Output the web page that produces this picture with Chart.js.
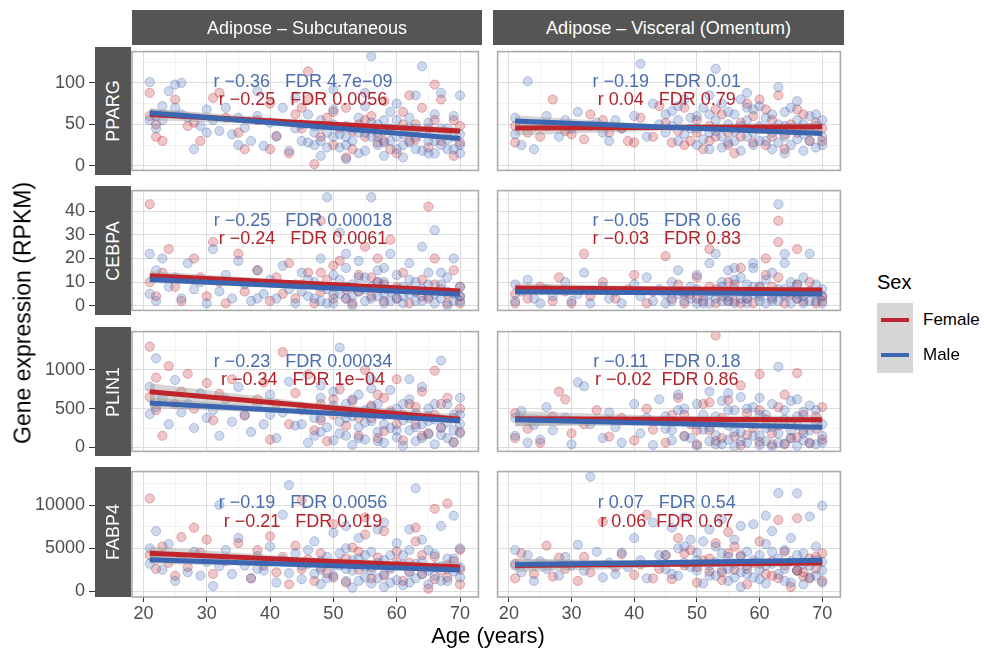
<!DOCTYPE html>
<html>
<head>
<meta charset="UTF-8" />
<title>Adipogenic gene expression by age</title>
<script src="https://cdn.jsdelivr.net/npm/chart.js@4"></script>
<style>
  body { margin: 0; background: #fff; font-family: "Liberation Sans", Arial, Helvetica, sans-serif; }
  #fig { position: relative; width: 984px; height: 651px; overflow: hidden; }
  canvas { position: absolute; }
  .strip { position: absolute; background: #555; color: #fff; font-size: 18px; }
  .strip span { position: absolute; left: 50%; top: 50%; transform: translate(-50%, -50%); white-space: nowrap; }
  .strip.row span { transform: translate(-50%, -50%) rotate(-90deg); }
  .note { position: absolute; font-size: 18px; white-space: pre; transform: translate(-50%, -50%); }
  .abs { position: absolute; white-space: nowrap; }
</style>
</head>
<body>
<div id="fig"></div>
<script>
// ---- data ----
const tissues = ['Adipose \u2013 Subcutaneous', 'Adipose \u2013 Visceral (Omentum)'];
const genes = ['PPARG', 'CEBPA', 'PLIN1', 'FABP4'];
const sexes = ['Female', 'Male'];

const ageTicks = [20, 30, 40, 50, 60, 70];
const ageMinor = [25, 35, 45, 55, 65];
const ageRange = [18.2, 72.9];
const fitAges = [21, 45.5, 70];

const ppargTicks = [0, 50, 100];
const ppargMinor = [25, 75, 125];
const ppargRange = [-5.6, 137.8];
const cebpaTicks = [0, 10, 20, 30, 40];
const cebpaMinor = [5, 15, 25, 35, 45];
const cebpaRange = [-2, 48.8];
const plin1Ticks = [0, 500, 1000];
const plin1Minor = [250, 750, 1250];
const plin1Range = [-52, 1495];
const fabp4Ticks = [0, 5000, 10000];
const fabp4Minor = [2500, 7500, 12500];
const fabp4Range = [-674, 13930];

// PPARG
const ppargSubMale = [[21,101],[21,55],[22,60],[22,45],[23,72],[24,90],[25,98],[26,100],[26,62],[27,58],[28,20],[29,48],[30,68],[31,55],[32,42],[33,70],[34,38],[35,58],[36,46],[37,30],[38,60],[39,24],[40,52],[41,35],[42,70],[43,18],[44,45],[45,30],[46,62],[47,25],[48,55],[48,12],[49,40],[50,35],[50,68],[51,22],[52,48],[52,8],[53,30],[54,58],[54,40],[55,18],[55,72],[56,132],[56,35],[57,50],[57,25],[58,12],[58,42],[59,65],[59,30],[60,20],[60,55],[61,38],[61,10],[62,46],[62,28],[63,85],[63,35],[64,120],[64,18],[65,52],[65,30],[66,40],[66,15],[67,88],[67,25],[68,45],[68,32],[69,20],[69,60],[70,38],[70,85],[70,25],
  [45,50],[46,28],[47,40],[48,30],[49,22],[50,50],[51,38],[52,25],[53,45],[54,15],[55,40],[56,52],[57,35],[58,28],[59,45],[60,35],[61,25],[62,58],[63,20],[64,40],[65,15],[66,30],[67,45],[68,20],[69,35],[70,15],[63,45],[58,55],[52,35],[47,48],[66,62],[60,75],[55,88],[50,92],[44,82],[38,90],[35,25],[30,40],[25,70],[23,55]];
const ppargSubFemale = [[21,88],[21,60],[22,50],[22,35],[23,30],[25,80],[27,48],[28,52],[29,30],[31,82],[32,88],[33,58],[35,40],[36,20],[38,55],[40,75],[41,36],[43,15],[44,62],[45,45],[46,80],[46,114],[47,2],[48,35],[49,58],[50,25],[51,45],[52,70],[53,20],[54,50],[55,35],[56,60],[57,28],[58,78],[59,42],[60,15],[61,65],[62,30],[63,50],[64,70],[65,22],[66,55],[66,98],[67,80],[68,40],[69,12],[70,48],[70,28],
  [48,48],[50,65],[53,42],[55,55],[57,40],[59,20],[61,50],[63,32],[65,45],[67,30],[69,55],[62,85],[58,30],[52,10],[45,70],[40,20]];
const ppargVisMale = [[21,58],[21,38],[22,25],[23,102],[24,20],[25,50],[26,60],[28,35],[29,55],[30,45],[31,65],[33,48],[34,52],[35,40],[37,55],[38,45],[40,60],[41,123],[42,35],[43,75],[44,50],[45,40],[46,66],[47,30],[47,55],[48,80],[49,45],[50,25],[50,60],[51,70],[52,40],[52,20],[53,117],[53,55],[54,35],[54,75],[55,50],[55,28],[56,62],[56,42],[57,18],[57,80],[58,55],[58,35],[59,68],[59,25],[60,48],[60,72],[61,30],[61,58],[62,40],[62,20],[63,95],[63,50],[64,35],[64,65],[65,45],[65,25],[66,78],[66,55],[67,38],[67,18],[68,60],[68,30],[69,48],[69,22],[70,55],[70,35],
  [45,62],[46,48],[48,38],[49,58],[50,45],[51,32],[52,62],[53,42],[54,22],[55,65],[56,30],[57,48],[58,70],[59,40],[60,30],[61,45],[62,62],[63,28],[64,48],[65,70],[66,32],[67,50],[68,42],[69,62],[70,25],[64,15],[58,88],[52,85],[47,72],[36,30]];
const ppargVisFemale = [[21,48],[21,28],[23,40],[25,35],[26,48],[27,80],[29,42],[30,38],[32,32],[33,62],[35,55],[36,40],[38,45],[39,30],[40,28],[41,58],[43,35],[44,72],[45,52],[46,28],[47,42],[48,70],[49,30],[50,55],[51,20],[52,48],[53,35],[54,62],[55,40],[56,15],[57,52],[58,75],[59,28],[60,45],[61,68],[62,35],[63,85],[64,20],[65,50],[66,40],[67,62],[68,30],[69,52],[70,45],
  [48,25],[50,40],[53,68],[55,25],[57,35],[59,60],[61,25],[62,55],[64,38],[66,68],[68,45],[70,30],[60,80],[52,30]];
const ppargSubMaleFit = [64, 48.5, 33];
const ppargSubFemaleFit = [62, 52, 42];
const ppargVisMaleFit = [54, 46.5, 39];
const ppargVisFemaleFit = [45.6, 46.3, 47];
const ppargSubMaleCI = [5, 1.8, 2.5];
const ppargSubFemaleCI = [7, 3, 4];
const ppargVisMaleCI = [7, 2.5, 3.5];
const ppargVisFemaleCI = [9, 3.5, 5];
const ppargSubStats = ['r \u22120.36   FDR 4.7e\u221209', 'r \u22120.25   FDR 0.0056'];
const ppargVisStats = ['r \u22120.19   FDR 0.01', 'r 0.04   FDR 0.79'];

// CEBPA
const cebpaSubMale = [[21,22],[21,5],[22,15],[22,2],[23,20],[24,8],[25,12],[26,3],[27,18],[28,7],[29,10],[30,1],[31,24],[32,6],[33,13],[34,3],[35,19],[36,9],[37,2],[38,15],[39,5],[40,11],[41,3],[42,17],[43,7],[44,1],[45,14],[46,4],[47,10],[48,2],[48,20],[49,46],[49,7],[50,13],[50,1],[51,31],[51,5],[52,16],[52,3],[53,9],[53,0],[54,19],[54,6],[55,12],[55,2],[56,46],[56,8],[57,4],[57,15],[58,1],[58,10],[59,22],[59,6],[60,3],[60,13],[61,8],[61,1],[62,18],[62,5],[63,10],[63,2],[64,25],[64,7],[65,4],[65,14],[66,32],[66,1],[67,9],[67,3],[68,12],[68,0],[69,20],[69,5],[70,8],[70,2],
  [45,6],[46,11],[47,3],[48,8],[49,1],[50,5],[51,11],[52,8],[53,4],[54,12],[55,7],[56,3],[57,10],[58,5],[59,2],[60,7],[61,4],[62,11],[63,6],[64,2],[65,9],[66,5],[67,14],[68,6],[69,2],[70,4],[58,16],[52,22],[44,9],[38,3]];
const cebpaSubFemale = [[21,43],[21,10],[22,4],[23,14],[24,24],[25,8],[26,2],[28,20],[29,12],[30,4],[31,27],[32,10],[33,1],[35,22],[36,6],[38,15],[40,2],[41,12],[42,5],[43,18],[44,3],[45,9],[46,14],[47,1],[48,36],[48,6],[49,11],[50,3],[51,19],[52,7],[53,1],[54,13],[55,25],[56,4],[57,10],[58,2],[59,28],[60,8],[61,14],[62,1],[63,6],[64,11],[65,42],[65,3],[66,20],[67,7],[68,1],[69,15],[70,4],[70,1],
  [48,14],[50,8],[52,3],[54,6],[56,12],[58,9],[60,3],[62,7],[64,4],[66,9],[68,5],[70,8],[57,20],[50,17]];
const cebpaVisMale = [[21,9],[21,2],[22,6],[23,11],[24,3],[25,1],[26,7],[27,4],[29,10],[30,2],[31,5],[32,14],[33,1],[35,8],[36,3],[37,6],[38,1],[40,9],[41,4],[42,12],[43,2],[44,7],[45,1],[46,10],[47,5],[47,15],[48,2],[49,8],[50,1],[50,13],[51,4],[52,18],[52,1],[53,22],[53,6],[54,2],[54,10],[55,4],[55,15],[56,1],[56,7],[57,12],[57,3],[58,1],[58,9],[59,5],[59,16],[60,2],[60,8],[61,11],[61,1],[62,4],[62,14],[63,43],[63,2],[64,7],[64,18],[65,1],[65,10],[66,5],[66,3],[67,12],[67,1],[68,22],[68,6],[69,2],[69,9],[70,4],[70,1],
  [45,5],[46,2],[48,6],[49,3],[50,7],[51,1],[52,5],[53,3],[54,8],[55,2],[56,11],[57,6],[58,3],[59,8],[60,4],[61,6],[62,2],[63,7],[64,4],[65,6],[66,9],[67,4],[68,2],[69,5],[70,7],[59,18],[64,22],[56,16]];
const cebpaVisFemale = [[21,5],[21,1],[23,3],[25,8],[27,2],[28,12],[29,6],[30,1],[32,22],[33,4],[35,10],[37,3],[39,7],[40,13],[42,1],[43,6],[45,21],[46,3],[47,9],[48,1],[49,5],[50,12],[51,2],[52,24],[52,8],[53,1],[54,4],[55,10],[56,2],[57,16],[58,6],[59,1],[60,8],[61,13],[62,3],[63,36],[63,27],[63,12],[64,1],[65,5],[66,24],[66,9],[67,2],[68,6],[69,1],[70,4],
  [48,5],[50,3],[53,7],[55,2],[56,9],[58,3],[60,5],[62,8],[64,5],[66,3],[68,10],[70,2],[61,20],[57,1]];
const cebpaSubMaleFit = [11.1, 8, 4.8];
const cebpaSubFemaleFit = [12.7, 9.5, 6.2];
const cebpaVisMaleFit = [5.9, 5.5, 5.0];
const cebpaVisFemaleFit = [7.5, 7.1, 6.6];
const cebpaSubMaleCI = [1.5, 0.6, 0.8];
const cebpaSubFemaleCI = [2, 0.9, 1.2];
const cebpaVisMaleCI = [1.5, 0.6, 0.8];
const cebpaVisFemaleCI = [2, 0.9, 1.2];
const cebpaSubStats = ['r \u22120.25   FDR 0.00018', 'r \u22120.24   FDR 0.0061'];
const cebpaVisStats = ['r \u22120.05   FDR 0.66', 'r \u22120.03   FDR 0.83'];

// PLIN1
const plin1SubMale = [[21,780],[21,430],[22,1150],[22,520],[23,640],[24,300],[25,870],[26,450],[27,560],[28,250],[29,700],[30,380],[31,480],[32,150],[33,620],[34,330],[35,780],[36,420],[37,200],[38,560],[39,300],[40,680],[41,120],[42,450],[43,850],[44,280],[45,520],[46,60],[47,380],[48,640],[48,200],[49,470],[50,90],[50,720],[51,1290],[51,330],[52,560],[52,150],[53,400],[53,30],[54,260],[54,680],[55,480],[55,100],[56,880],[56,340],[57,200],[57,560],[58,60],[58,420],[59,740],[59,250],[60,130],[60,500],[61,350],[61,20],[62,620],[62,220],[63,440],[63,80],[64,300],[64,780],[65,170],[65,500],[66,360],[66,40],[67,1120],[67,260],[68,560],[68,120],[69,420],[69,60],[70,640],[70,300],[70,180],
  [45,300],[46,480],[47,150],[48,380],[49,260],[50,540],[51,180],[52,380],[53,620],[54,120],[55,320],[56,520],[57,80],[58,300],[59,440],[60,220],[61,560],[62,380],[63,260],[64,120],[65,340],[66,560],[67,160],[68,320],[69,220],[70,420],[62,880],[56,760],[48,800],[40,420]];
const plin1SubFemale = [[21,1300],[21,650],[22,480],[22,900],[23,150],[24,1050],[25,560],[26,720],[27,950],[28,500],[30,830],[31,350],[32,690],[34,880],[36,410],[38,620],[39,840],[40,100],[41,560],[42,1230],[43,300],[44,700],[45,480],[46,940],[47,220],[48,560],[49,80],[50,420],[51,750],[52,280],[53,600],[54,150],[55,1000],[56,380],[57,680],[58,210],[59,470],[60,880],[61,90],[62,560],[63,300],[64,720],[65,180],[66,990],[66,420],[67,250],[68,640],[69,70],[70,500],[70,200],
  [48,350],[50,620],[52,450],[54,380],[56,540],[58,640],[60,300],[61,420],[63,520],[65,400],[67,560],[69,380],[64,150],[57,120]];
const plin1VisMale = [[21,380],[21,150],[22,470],[23,60],[24,290],[25,100],[26,520],[27,220],[29,380],[30,40],[31,840],[32,790],[33,300],[35,120],[36,450],[37,260],[38,60],[40,560],[41,180],[42,380],[43,30],[44,620],[45,240],[46,90],[47,480],[47,680],[48,140],[49,320],[50,20],[50,560],[51,230],[52,80],[52,720],[53,400],[53,160],[54,40],[54,600],[55,280],[55,100],[56,480],[56,10],[57,200],[57,650],[58,340],[58,60],[59,520],[59,150],[60,30],[60,420],[61,250],[61,80],[62,560],[62,10],[63,1040],[63,180],[64,360],[64,50],[65,600],[65,120],[66,280],[66,20],[67,460],[67,90],[68,220],[68,540],[69,40],[69,330],[70,150],[70,60],
  [45,400],[46,220],[48,500],[49,120],[50,300],[51,420],[52,260],[53,40],[54,330],[55,480],[56,200],[57,80],[58,500],[59,300],[60,150],[61,420],[62,260],[63,60],[64,480],[65,220],[66,400],[67,180],[68,50],[69,480],[70,300],[55,700],[60,640],[66,620]];
const plin1VisFemale = [[21,440],[21,120],[23,240],[25,60],[27,400],[28,720],[29,620],[30,180],[32,300],[34,480],[36,140],[38,380],[40,90],[42,500],[43,230],[45,60],[46,420],[47,640],[48,150],[49,300],[50,40],[51,560],[52,220],[53,1445],[53,80],[54,380],[55,610],[56,140],[57,30],[58,440],[59,250],[60,945],[60,70],[61,360],[62,180],[63,520],[64,40],[65,300],[66,960],[66,130],[67,420],[68,60],[69,240],[70,520],[70,100],
  [48,420],[50,220],[52,580],[54,120],[56,320],[58,160],[60,480],[62,40],[63,280],[65,120],[67,220],[69,400],[57,800],[64,680]];
const plin1SubMaleFit = [574, 459, 344];
const plin1SubFemaleFit = [719, 541, 363];
const plin1VisMaleFit = [356, 308, 259];
const plin1VisFemaleFit = [371, 364, 356];
const plin1SubMaleCI = [70, 25, 35];
const plin1SubFemaleCI = [110, 45, 60];
const plin1VisMaleCI = [80, 30, 40];
const plin1VisFemaleCI = [100, 40, 55];
const plin1SubStats = ['r \u22120.23   FDR 0.00034', 'r \u22120.34   FDR 1e\u221204'];
const plin1VisStats = ['r \u22120.11   FDR 0.18', 'r \u22120.02  FDR 0.86'];

// FABP4
const fabp4SubMale = [[21,5000],[21,3200],[22,7000],[22,4200],[23,2500],[24,5500],[25,1200],[26,3800],[27,2200],[28,4600],[29,1800],[30,3400],[31,600],[32,10040],[32,2900],[33,4800],[34,2000],[35,6200],[36,3000],[37,1500],[38,4100],[39,2400],[40,5200],[41,1000],[42,8900],[42,3600],[43,12360],[43,2100],[44,4400],[45,1400],[46,3200],[47,5800],[48,2500],[48,800],[49,4000],[50,1800],[50,6800],[51,3000],[52,1200],[52,5000],[53,2400],[53,400],[54,3800],[54,6200],[55,1600],[55,2800],[56,4600],[56,900],[57,3300],[57,7200],[58,2000],[58,500],[59,4200],[59,2600],[60,1300],[60,5600],[61,3100],[61,700],[62,2200],[62,4800],[63,11990],[63,1500],[64,3500],[64,6000],[65,2400],[65,800],[66,4300],[66,1800],[67,2900],[67,7600],[68,1200],[68,3800],[69,8800],[69,2300],[70,5000],[70,1600],
  [45,3000],[46,4800],[47,2000],[48,3500],[49,1500],[50,3000],[51,4400],[52,2600],[53,3600],[54,1200],[55,4200],[56,2400],[57,1500],[58,3600],[59,1000],[60,3000],[61,4200],[62,1000],[63,3200],[64,2000],[65,4800],[66,2800],[67,1200],[68,2600],[69,3800],[70,2800],[58,8000],[62,7200],[52,7600],[38,2600]];
const fabp4SubFemale = [[21,10790],[21,4200],[22,2600],[23,5200],[24,3300],[25,1800],[26,6300],[27,2800],[28,7400],[29,4500],[30,6000],[31,2000],[33,3500],[35,5600],[37,1500],[38,4800],[39,3000],[40,6400],[41,2200],[42,4000],[43,800],[44,5300],[45,10600],[45,2600],[46,3700],[47,1200],[48,4400],[49,2100],[50,7800],[51,3300],[52,1000],[53,5100],[54,2500],[55,6600],[56,1500],[57,3900],[58,7000],[59,2800],[60,4600],[61,1200],[62,3300],[63,5800],[64,2000],[65,300],[66,9600],[66,4000],[67,2400],[68,10220],[68,1600],[69,3500],[70,2500],[70,800],
  [48,2800],[50,1600],[52,3800],[54,4600],[56,2800],[58,1800],[60,3400],[62,2300],[64,4200],[66,1400],[68,3000],[70,4800],[55,8600],[63,7400]];
const fabp4VisMale = [[21,4800],[21,3000],[22,2200],[23,4200],[24,1200],[25,3500],[26,2600],[28,1800],[29,4000],[30,3000],[31,5400],[32,2400],[33,13340],[34,4600],[35,1600],[36,3300],[37,2000],[38,4500],[39,2800],[40,6200],[41,3600],[42,1500],[43,8000],[44,4200],[45,2600],[46,7400],[47,5000],[47,1800],[48,3300],[49,6000],[50,2400],[50,4500],[51,900],[52,7200],[52,3000],[53,1800],[53,5200],[54,2500],[54,8400],[55,4000],[55,1200],[56,3200],[56,6000],[57,2200],[57,500],[58,4600],[58,3000],[59,7800],[59,1600],[60,4200],[60,2500],[61,5500],[61,900],[62,3200],[62,7000],[63,11430],[63,2000],[64,4800],[64,1200],[65,3500],[65,6200],[66,11400],[66,2400],[67,4400],[67,800],[68,8700],[68,3000],[69,5200],[69,1800],[70,9960],[70,3400],[70,1000],
  [45,4200],[46,2000],[48,5200],[49,2800],[50,3600],[51,5800],[52,1800],[53,3400],[54,4400],[55,2600],[56,1600],[57,4000],[58,2000],[59,3600],[60,1400],[61,3000],[62,4600],[63,3800],[64,2600],[65,1000],[66,4200],[67,3200],[68,1600],[69,3600],[70,2400],[57,7600],[61,8800],[48,8600]];
const fabp4VisFemale = [[21,3200],[21,1500],[22,4400],[24,2000],[26,5300],[27,1700],[28,3900],[29,2600],[31,1200],[32,4000],[33,2200],[35,8090],[37,2800],[38,4300],[40,1900],[41,3100],[42,8910],[43,1500],[44,2600],[45,4200],[46,1400],[47,6200],[48,3000],[49,4800],[50,1000],[51,3600],[52,2300],[53,5600],[54,1300],[55,6900],[56,2500],[57,4200],[58,800],[59,3300],[60,5800],[61,2000],[62,3500],[63,8300],[63,1500],[64,4600],[65,500],[66,8500],[66,2400],[67,1700],[68,3800],[69,2600],[70,4400],[70,1200],
  [48,4400],[50,2800],[52,3800],[54,2200],[56,5200],[58,2600],[60,3200],[62,1800],[64,3000],[66,2400],[67,2200],[68,1500],[69,4000],[55,4400]];
const fabp4SubMaleFit = [3670, 3070, 2470];
const fabp4SubFemaleFit = [4420, 3615, 2810];
const fabp4VisMaleFit = [3110, 3355, 3600];
const fabp4VisFemaleFit = [3000, 3145, 3290];
const fabp4SubMaleCI = [500, 180, 250];
const fabp4SubFemaleCI = [800, 320, 420];
const fabp4VisMaleCI = [600, 220, 300];
const fabp4VisFemaleCI = [800, 320, 420];
const fabp4SubStats = ['r \u22120.19   FDR 0.0056', 'r \u22120.21   FDR 0.019'];
const fabp4VisStats = ['r 0.07   FDR 0.54', 'r 0.06  FDR 0.67'];

// ---- styling ----
const maleCol = '#3d66b0', femaleCol = '#c0252c';
const maleNote = '#4a6dae', femaleNote = '#b3222a';
const malePt = 'rgba(70,110,185,0.26)', malePtEdge = 'rgba(60,95,170,0.32)';
const femalePt = 'rgba(195,40,45,0.26)', femalePtEdge = 'rgba(180,35,40,0.32)';
const bandCol = 'rgba(153,153,153,0.4)';
const FONT = '"Liberation Sans", Arial, Helvetica, sans-serif';
Chart.defaults.font.family = FONT;

const colLeft = [132, 493], colRight = [482, 844];
const rowTop = [47, 186, 327, 467], rowBottom = [175, 315, 456, 597];

const rows = [
  { ticks: ppargTicks, minor: ppargMinor, range: ppargRange,
    sub: [ppargSubMale, ppargSubFemale, ppargSubMaleFit, ppargSubFemaleFit, ppargSubMaleCI, ppargSubFemaleCI, ppargSubStats],
    vis: [ppargVisMale, ppargVisFemale, ppargVisMaleFit, ppargVisFemaleFit, ppargVisMaleCI, ppargVisFemaleCI, ppargVisStats] },
  { ticks: cebpaTicks, minor: cebpaMinor, range: cebpaRange,
    sub: [cebpaSubMale, cebpaSubFemale, cebpaSubMaleFit, cebpaSubFemaleFit, cebpaSubMaleCI, cebpaSubFemaleCI, cebpaSubStats],
    vis: [cebpaVisMale, cebpaVisFemale, cebpaVisMaleFit, cebpaVisFemaleFit, cebpaVisMaleCI, cebpaVisFemaleCI, cebpaVisStats] },
  { ticks: plin1Ticks, minor: plin1Minor, range: plin1Range,
    sub: [plin1SubMale, plin1SubFemale, plin1SubMaleFit, plin1SubFemaleFit, plin1SubMaleCI, plin1SubFemaleCI, plin1SubStats],
    vis: [plin1VisMale, plin1VisFemale, plin1VisMaleFit, plin1VisFemaleFit, plin1VisMaleCI, plin1VisFemaleCI, plin1VisStats] },
  { ticks: fabp4Ticks, minor: fabp4Minor, range: fabp4Range,
    sub: [fabp4SubMale, fabp4SubFemale, fabp4SubMaleFit, fabp4SubFemaleFit, fabp4SubMaleCI, fabp4SubFemaleCI, fabp4SubStats],
    vis: [fabp4VisMale, fabp4VisFemale, fabp4VisMaleFit, fabp4VisFemaleFit, fabp4VisMaleCI, fabp4VisFemaleCI, fabp4VisStats] }
];

const fig = document.getElementById('fig');
function addDiv(cls, text, css) {
  const d = document.createElement('div');
  d.className = cls;
  if (text !== null) d.textContent = text;
  Object.assign(d.style, css);
  fig.appendChild(d);
  return d;
}

const frame = {
  id: 'frame',
  afterDraw(c) {
    const a = c.chartArea, g = c.ctx;
    g.save();
    g.strokeStyle = '#ababab';
    g.lineWidth = 1.6;
    g.strokeRect(a.left, a.top, a.right - a.left, a.bottom - a.top);
    g.restore();
  }
};

const pts = arr => arr.map(p => ({ x: p[0], y: p[1] }));
const curve = (vals, off) => fitAges.map((a, i) => ({ x: a, y: vals[i] + (off ? off[i] : 0) }));
const neg = arr => arr.map(v => -v);

function gridOpts(major, showTicks) {
  return {
    color: c => major.includes(c.tick.value) ? '#dcdcdc' : '#eeeeee',
    lineWidth: c => major.includes(c.tick.value) ? 1 : 0.7,
    drawTicks: showTicks,
    tickLength: 5,
    tickColor: c => major.includes(c.tick.value) ? '#333333' : 'rgba(0,0,0,0)'
  };
}

function makePanel(r, col) {
  const row = rows[r];
  const [male, female, mFit, fFit, mCI, fCI, stats] = col === 0 ? row.sub : row.vis;
  const L = colLeft[col], R = colRight[col], T = rowTop[r], B = rowBottom[r];
  const isLeft = col === 0, isBottom = r === 3;
  const cvLeft = isLeft ? 0 : L - 1;
  const yW = isLeft ? L : 0;
  const xH = isBottom ? 32 : 0;
  const cv = document.createElement('canvas');
  cv.width = R + 2 - cvLeft;
  cv.height = (B - T) + 2 + xH;
  cv.style.left = cvLeft + 'px';
  cv.style.top = (T - 1) + 'px';
  fig.appendChild(cv);

  const yGrid = gridOpts(row.ticks, isLeft);
  yGrid.tickLength = 43;
  const chart = new Chart(cv, {
    type: 'scatter',
    data: {
      datasets: [
        { type: 'line', data: curve(mFit), borderColor: maleCol, borderWidth: 5, pointRadius: 0, fill: false, order: 0 },
        { type: 'line', data: curve(fFit), borderColor: femaleCol, borderWidth: 5, pointRadius: 0, fill: false, order: 1 },
        { type: 'line', data: curve(mFit, mCI), borderWidth: 0, pointRadius: 0, fill: false, order: 2 },
        { type: 'line', data: curve(mFit, neg(mCI)), borderWidth: 0, pointRadius: 0, fill: '-1', backgroundColor: bandCol, order: 2 },
        { type: 'line', data: curve(fFit, fCI), borderWidth: 0, pointRadius: 0, fill: false, order: 3 },
        { type: 'line', data: curve(fFit, neg(fCI)), borderWidth: 0, pointRadius: 0, fill: '-1', backgroundColor: bandCol, order: 3 },
        { label: 'Male', data: pts(male), backgroundColor: malePt, borderColor: malePtEdge, borderWidth: 1, pointRadius: 4.6, order: 4 },
        { label: 'Female', data: pts(female), backgroundColor: femalePt, borderColor: femalePtEdge, borderWidth: 1, pointRadius: 4.6, order: 5 }
      ]
    },
    options: {
      responsive: false,
      animation: false,
      events: [],
      layout: { padding: { left: isLeft ? 0 : 1, right: 2, top: 1, bottom: 1 } },
      plugins: { legend: { display: false }, tooltip: { enabled: false } },
      scales: {
        x: {
          type: 'linear', min: ageRange[0], max: ageRange[1],
          afterBuildTicks: s => { s.ticks = ageTicks.concat(ageMinor).sort((a, b) => a - b).map(v => ({ value: v })); },
          ticks: { display: isBottom, autoSkip: false, maxRotation: 0, padding: 1, color: '#4d4d4d', font: { size: 18 },
                   callback: v => ageTicks.includes(v) ? String(v) : '' },
          grid: gridOpts(ageTicks, isBottom),
          border: { display: false },
          afterFit: s => { s.height = xH; s.paddingLeft = 0; s.paddingRight = 0; s.paddingTop = 0; s.paddingBottom = 0; }
        },
        y: {
          type: 'linear', min: row.range[0], max: row.range[1],
          afterBuildTicks: s => { s.ticks = row.ticks.concat(row.minor).sort((a, b) => a - b).map(v => ({ value: v })); },
          ticks: { display: isLeft, autoSkip: false, padding: 4, color: '#4d4d4d', font: { size: 18 },
                   callback: v => row.ticks.includes(v) ? String(v) : '' },
          grid: yGrid,
          border: { display: false },
          afterFit: s => { s.width = yW; s.paddingLeft = 0; s.paddingRight = 0; s.paddingTop = 0; s.paddingBottom = 0; }
        }
      }
    },
    plugins: [frame]
  });

  // r / FDR annotations
  const a = chart.chartArea;
  const cx = cvLeft + chart.scales.x.getPixelForValue(45.2);
  const h = a.bottom - a.top;
  addDiv('note', stats[0], { left: cx + 'px', top: (T - 1 + a.top + 0.245 * h) + 'px', color: maleNote });
  addDiv('note', stats[1], { left: cx + 'px', top: (T - 1 + a.top + 0.395 * h) + 'px', color: femaleNote });
}

for (let r = 0; r < 4; r++) for (let c = 0; c < 2; c++) makePanel(r, c);

// strips
tissues.forEach((t, c) => {
  const s = addDiv('strip', null, { left: colLeft[c] + 'px', top: '10px', width: (colRight[c] - colLeft[c]) + 'px', height: '35px' });
  const sp = document.createElement('span'); sp.textContent = t; s.appendChild(sp);
});
genes.forEach((g, r) => {
  const s = addDiv('strip row', null, { left: '95px', top: rowTop[r] + 'px', width: '36px', height: (rowBottom[r] - rowTop[r]) + 'px' });
  const sp = document.createElement('span'); sp.textContent = g; s.appendChild(sp);
});

// axis titles
addDiv('abs', 'Gene expression (RPKM)', { left: '23px', top: '313px', fontSize: '23px', color: '#000', transform: 'translate(-50%, -50%) rotate(-90deg)' });
addDiv('abs', 'Age (years)', { left: '488px', top: '636px', fontSize: '22px', color: '#000', transform: 'translate(-50%, -50%)' });

// legend
addDiv('abs', 'Sex', { left: '877px', top: '271px', fontSize: '20px', color: '#000' });
addDiv('abs', null, { left: '877px', top: '303px', width: '36px', height: '70px', background: '#d6d6d6' });
[femaleCol, maleCol].forEach((col, i) => {
  addDiv('abs', null, { left: '881px', top: (318 + 35 * i) + 'px', width: '28px', height: '4px', background: col });
  addDiv('abs', sexes[i], { left: '923px', top: (320 + 35 * i) + 'px', fontSize: '17px', color: '#000', transform: 'translateY(-50%)' });
});
</script>
</body>
</html>
